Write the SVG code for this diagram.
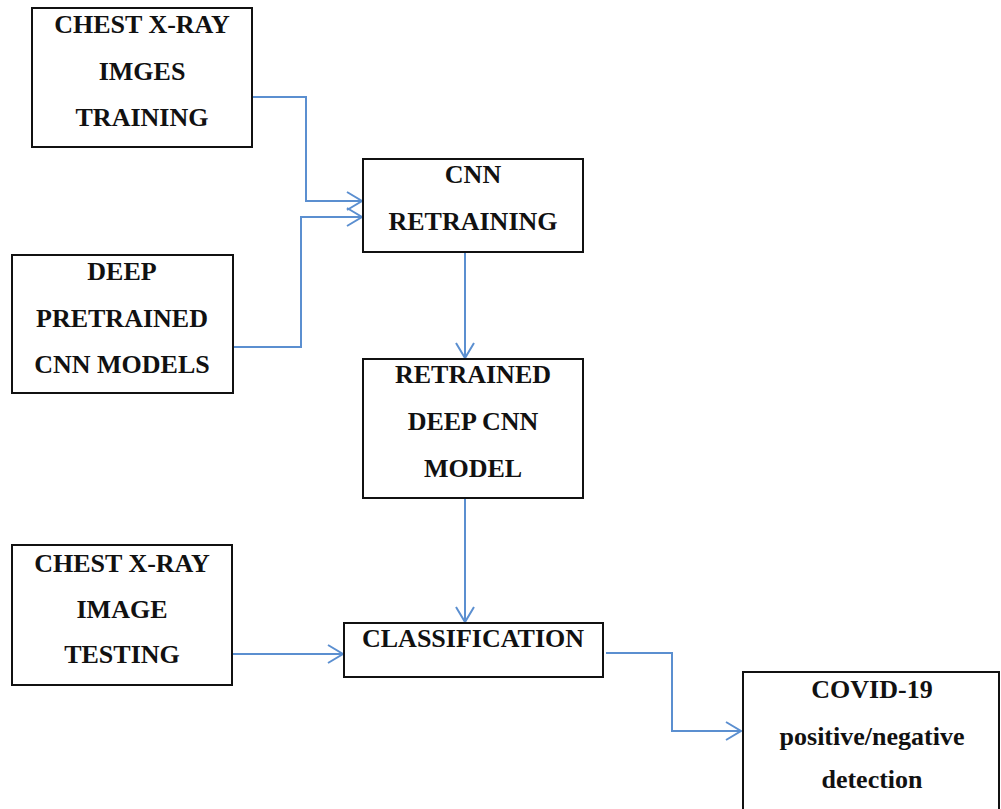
<svg xmlns="http://www.w3.org/2000/svg" width="1001" height="809" viewBox="0 0 1001 809">
<style>
.box{fill:#fff;stroke:#111;stroke-width:2}
.t{font-family:"Liberation Serif","Times New Roman",serif;font-weight:bold;font-size:26px;fill:#111;text-anchor:middle}
.c{fill:none;stroke:#5b8fd0;stroke-width:2}
</style>
<defs>
<marker id="ah" markerUnits="userSpaceOnUse" markerWidth="20" markerHeight="22" refX="16" refY="10" orient="auto">
<path d="M1,1 L16,10 L1,19" fill="none" stroke="#5b8fd0" stroke-width="2"/>
</marker>
</defs>
<rect width="1001" height="809" fill="#fff"/>
<g id="connectors">
<path class="c" d="M250,97 H306 V201 H362" marker-end="url(#ah)"/>
<path class="c" d="M233,347 H301 V217 H362" marker-end="url(#ah)"/>
<path class="c" d="M465,252 V358" marker-end="url(#ah)"/>
<path class="c" d="M465,498 V622" marker-end="url(#ah)"/>
<path class="c" d="M232,654 H343" marker-end="url(#ah)"/>
<path class="c" d="M606,653 H672 V731 H741" marker-end="url(#ah)"/>
</g>
<g id="n1">
<rect class="box" x="32" y="8" width="220" height="139"/>
<text class="t" x="142" y="33">CHEST X-RAY</text>
<text class="t" x="142" y="80">IMGES</text>
<text class="t" x="142" y="126">TRAINING</text>
</g>
<g id="n2">
<rect class="box" x="12" y="255" width="221" height="138"/>
<text class="t" x="122" y="280">DEEP</text>
<text class="t" x="122" y="327">PRETRAINED</text>
<text class="t" x="122" y="373">CNN MODELS</text>
</g>
<g id="n3">
<rect class="box" x="363" y="159" width="220" height="93"/>
<text class="t" x="473" y="183">CNN</text>
<text class="t" x="473" y="230">RETRAINING</text>
</g>
<g id="n4">
<rect class="box" x="363" y="359" width="220" height="139"/>
<text class="t" x="473" y="383">RETRAINED</text>
<text class="t" x="473" y="430">DEEP CNN</text>
<text class="t" x="473" y="477">MODEL</text>
</g>
<g id="n5">
<rect class="box" x="12" y="545" width="220" height="140"/>
<text class="t" x="122" y="572">CHEST X-RAY</text>
<text class="t" x="122" y="618">IMAGE</text>
<text class="t" x="122" y="663">TESTING</text>
</g>
<g id="n6">
<rect class="box" x="344" y="623" width="259" height="54"/>
<text class="t" x="473" y="647">CLASSIFICATION</text>
</g>
<g id="n7">
<rect class="box" x="743" y="672" width="256" height="150"/>
<text class="t" x="872" y="698">COVID-19</text>
<text class="t" x="872" y="745">positive/negative</text>
<text class="t" x="872" y="788">detection</text>
</g>
</svg>
